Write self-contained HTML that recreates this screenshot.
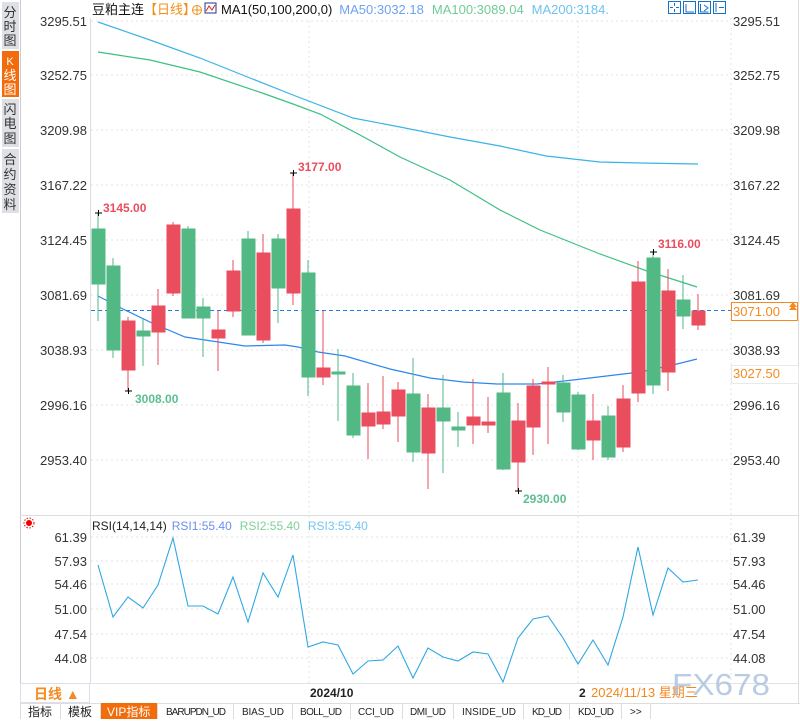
<!DOCTYPE html>
<html><head><meta charset="utf-8"><style>
body{margin:0;width:800px;height:719px;overflow:hidden;background:#fff;font-family:"Liberation Sans","Noto Sans CJK SC",sans-serif;}
svg text{font-family:"Liberation Sans","Noto Sans CJK SC",sans-serif;}
</style></head><body>
<svg width="800" height="719" viewBox="0 0 800 719" xmlns="http://www.w3.org/2000/svg">
<rect width="800" height="719" fill="#fff"/>
<rect x="2" y="2" width="17" height="47" fill="#dfe0e6"/>
<rect x="2" y="51" width="17" height="46" fill="#f36c0c"/>
<rect x="2" y="99" width="17" height="48" fill="#dfe0e6"/>
<rect x="2" y="149" width="17" height="64" fill="#dfe0e6"/>
<g font-size="13" fill="#333" text-anchor="middle">
<text x="10" y="17">分</text><text x="10" y="31">时</text><text x="10" y="45">图</text>
<text x="10" y="65" fill="#fff" font-size="11">K</text><text x="10" y="80" fill="#fff">线</text><text x="10" y="94" fill="#fff">图</text>
<text x="10" y="114">闪</text><text x="10" y="128">电</text><text x="10" y="143">图</text>
<text x="10" y="164">合</text><text x="10" y="179">约</text><text x="10" y="194">资</text><text x="10" y="209">料</text>
</g>
<line x1="20.5" y1="0" x2="20.5" y2="719" stroke="#ccc"/>
<line x1="90.5" y1="18" x2="90.5" y2="683" stroke="#ddd"/>
<line x1="798.5" y1="0" x2="798.5" y2="703" stroke="#ddd"/>
<g stroke="#e3e3e3" stroke-dasharray="2,3">
<line x1="91" y1="21" x2="731" y2="21"/><line x1="91" y1="75" x2="731" y2="75"/><line x1="91" y1="130" x2="731" y2="130"/>
<line x1="91" y1="185" x2="731" y2="185"/><line x1="91" y1="240" x2="731" y2="240"/><line x1="91" y1="295" x2="731" y2="295"/>
<line x1="91" y1="350" x2="731" y2="350"/><line x1="91" y1="405" x2="731" y2="405"/><line x1="91" y1="460" x2="731" y2="460"/>
<line x1="309" y1="21" x2="309" y2="683"/><line x1="578" y1="21" x2="578" y2="683"/>
<line x1="731" y1="18" x2="731" y2="683"/>
<line x1="91" y1="537" x2="731" y2="537"/><line x1="91" y1="561" x2="731" y2="561"/><line x1="91" y1="584" x2="731" y2="584"/>
<line x1="91" y1="609" x2="731" y2="609"/><line x1="91" y1="634" x2="731" y2="634"/><line x1="91" y1="658" x2="731" y2="658"/>
</g>
<line x1="20" y1="515.5" x2="798" y2="515.5" stroke="#ddd"/>
<text x="92" y="14" font-size="13"><tspan fill="#111">豆粕主连</tspan><tspan fill="#f39019">【日线】</tspan></text>
<circle cx="197" cy="10" r="4.5" fill="none" stroke="#f39019"/><path d="M192.5 10h9M197 5.5v9" stroke="#f39019"/>
<rect x="205" y="3" width="11" height="10" fill="#fff" stroke="#1a3a8a"/><polyline points="206,11 209,6 212,10 215,5" fill="none" stroke="#d22" />
<text x="221" y="14" font-size="13"><tspan fill="#111">MA1(50,100,200,0)</tspan><tspan fill="#6ea3f2" dx="7">MA50:3032.18</tspan><tspan fill="#6fcc98" dx="8">MA100:3089.04</tspan><tspan fill="#6cc3ef" dx="8">MA200:3184.</tspan></text>
<g fill="none" stroke="#1672c6" stroke-width="1">
<rect x="668.5" y="1.5" width="12" height="12"/><rect x="683.5" y="1.5" width="12" height="12"/><rect x="698.5" y="1.5" width="12" height="12"/><rect x="713.5" y="1.5" width="12" height="12"/>
<path d="M674.5 3v3M674.5 9v3M670 7.5h3M676 7.5h3M686 4v8h8M700.5 4v8h8M704 5l4 3-4 3M716 3v9M719 7.5h5"/>
</g>
<g font-size="13" fill="#333">
<g text-anchor="end">
<text x="87" y="26">3295.51</text><text x="87" y="80">3252.75</text><text x="87" y="135">3209.98</text><text x="87" y="190">3167.22</text>
<text x="87" y="245">3124.45</text><text x="87" y="300">3081.69</text><text x="87" y="355">3038.93</text><text x="87" y="410">2996.16</text><text x="87" y="465">2953.40</text>
<text x="87" y="542">61.39</text><text x="87" y="566">57.93</text><text x="87" y="589">54.46</text><text x="87" y="614">51.00</text><text x="87" y="639">47.54</text><text x="87" y="663">44.08</text>
</g>
<text x="733" y="26">3295.51</text><text x="733" y="80">3252.75</text><text x="733" y="135">3209.98</text><text x="733" y="190">3167.22</text>
<text x="733" y="245">3124.45</text><text x="733" y="300">3081.69</text><text x="733" y="355">3038.93</text><text x="733" y="410">2996.16</text><text x="733" y="465">2953.40</text>
<text x="733" y="542">61.39</text><text x="733" y="566">57.93</text><text x="733" y="589">54.46</text><text x="733" y="614">51.00</text><text x="733" y="639">47.54</text><text x="733" y="663">44.08</text>
</g>
<polyline fill="none" stroke="#3bb3e6" stroke-width="1.2" points="98,22 150,40 200,58 250,78 293,95 353,118 400,127 450,137 500,146 546,156 600,162 640,163 698,164"/>
<polyline fill="none" stroke="#3cc083" stroke-width="1.2" points="98,52 150,60 200,72 265,94 293,104 320,114 360,135 400,157 450,180 500,210 540,230 600,254 647,271 697,287"/>
<polyline fill="none" stroke="#2d86f0" stroke-width="1.2" points="98,296 123,309 152,323 185,337 225,343 245,346 285,345 298,347 318,352 345,356 390,369 430,378 463,382 497,384 537,384 573,380 640,372 673,365 697,359"/>
<line x1="91" y1="310.5" x2="731" y2="310.5" stroke="#1e7bef" stroke-dasharray="4,3"/>
<g stroke="#52b985" fill="#52b985">
<line x1="98" y1="213" x2="98" y2="321"/><rect x="92" y="229" width="13" height="55"/>
<line x1="113" y1="258" x2="113" y2="358"/><rect x="107" y="266" width="13" height="84"/>
<line x1="143" y1="319" x2="143" y2="366"/><rect x="137" y="331" width="13" height="5"/>
<line x1="188" y1="226" x2="188" y2="318"/><rect x="182" y="229" width="13" height="89"/>
<line x1="203" y1="298" x2="203" y2="357"/><rect x="197" y="307" width="13" height="11"/>
<line x1="248" y1="231" x2="248" y2="335"/><rect x="242" y="239" width="13" height="96"/>
<line x1="278" y1="234" x2="278" y2="323"/><rect x="272" y="239" width="13" height="49"/>
<line x1="308" y1="260" x2="308" y2="396"/><rect x="302" y="273" width="13" height="104"/>
<line x1="338" y1="349" x2="338" y2="421"/><rect x="332" y="372" width="13" height="2"/>
<line x1="353" y1="373" x2="353" y2="438"/><rect x="347" y="386" width="13" height="49"/>
<line x1="413" y1="358" x2="413" y2="462"/><rect x="407" y="394" width="13" height="58"/>
<line x1="443" y1="375" x2="443" y2="473"/><rect x="437" y="408" width="13" height="13"/>
<line x1="458" y1="412" x2="458" y2="447"/><rect x="452" y="427" width="13" height="3"/>
<line x1="503" y1="373" x2="503" y2="470"/><rect x="497" y="393" width="13" height="76"/>
<line x1="563" y1="375" x2="563" y2="422"/><rect x="557" y="383" width="13" height="29"/>
<line x1="578" y1="392" x2="578" y2="450"/><rect x="572" y="395" width="13" height="54"/>
<line x1="608" y1="406" x2="608" y2="460"/><rect x="602" y="416" width="13" height="41"/>
<line x1="653" y1="252" x2="653" y2="394"/><rect x="647" y="258" width="13" height="127"/>
<line x1="683" y1="275" x2="683" y2="329"/><rect x="677" y="300" width="13" height="16"/>
</g>
<g stroke="#ea4d5e" fill="#ea4d5e">
<line x1="128" y1="317" x2="128" y2="391"/><rect x="122" y="321" width="13" height="49"/>
<line x1="158" y1="289" x2="158" y2="365"/><rect x="152" y="306" width="13" height="26"/>
<line x1="173" y1="222" x2="173" y2="296"/><rect x="167" y="225" width="13" height="68"/>
<line x1="218" y1="311" x2="218" y2="371"/><rect x="212" y="330" width="13" height="8"/>
<line x1="233" y1="260" x2="233" y2="317"/><rect x="227" y="271" width="13" height="40"/>
<line x1="263" y1="234" x2="263" y2="343"/><rect x="257" y="253" width="13" height="87"/>
<line x1="293" y1="173" x2="293" y2="305"/><rect x="287" y="209" width="13" height="84"/>
<line x1="323" y1="311" x2="323" y2="385"/><rect x="317" y="368" width="13" height="9"/>
<line x1="368" y1="383" x2="368" y2="459"/><rect x="362" y="413" width="13" height="13"/>
<line x1="383" y1="376" x2="383" y2="429"/><rect x="377" y="412" width="13" height="12"/>
<line x1="398" y1="382" x2="398" y2="442"/><rect x="392" y="390" width="13" height="26"/>
<line x1="428" y1="394" x2="428" y2="489"/><rect x="422" y="408" width="13" height="45"/>
<line x1="473" y1="379" x2="473" y2="444"/><rect x="467" y="417" width="13" height="8"/>
<line x1="488" y1="397" x2="488" y2="433"/><rect x="482" y="422" width="13" height="3"/>
<line x1="518" y1="403" x2="518" y2="491"/><rect x="512" y="421" width="13" height="41"/>
<line x1="533" y1="379" x2="533" y2="455"/><rect x="527" y="386" width="13" height="41"/>
<line x1="548" y1="367" x2="548" y2="444"/><rect x="542" y="382" width="13" height="2"/>
<line x1="593" y1="394" x2="593" y2="460"/><rect x="587" y="421" width="13" height="19"/>
<line x1="623" y1="385" x2="623" y2="452"/><rect x="617" y="399" width="13" height="48"/>
<line x1="638" y1="261" x2="638" y2="402"/><rect x="632" y="282" width="13" height="111"/>
<line x1="668" y1="269" x2="668" y2="391"/><rect x="662" y="291" width="13" height="81"/>
<line x1="698" y1="294" x2="698" y2="330"/><rect x="692" y="311" width="13" height="14"/>
</g>
<g stroke="#000" stroke-width="1"><path d="M95 213h7M98.5 210v6M290 173h7M293.5 170v6M125 391h7M128.5 388v6M515 491h7M518.5 488v6M650 252h7M653.5 249v6"/></g>
<g font-size="12" font-weight="bold">
<text x="103" y="212" fill="#ea4d5e">3145.00</text><text x="298" y="171" fill="#ea4d5e">3177.00</text>
<text x="135" y="403" fill="#5cbf90">3008.00</text><text x="523" y="503" fill="#5cbf90">2930.00</text>
<text x="658" y="248" fill="#ea4d5e">3116.00</text>
</g>
<rect x="731.5" y="302.5" width="66" height="18" fill="#fff" stroke="#f58a1f"/>
<text x="733" y="316" font-size="13" fill="#f58a1f">3071.00</text>
<path d="M789 307l4-5 4 5zM789 310l4-5 4 5" fill="#f58a1f"/>
<rect x="731.5" y="365.5" width="67" height="18" fill="#fff" stroke="#e5ece8"/>
<text x="733" y="378" font-size="13" fill="#f58a1f">3027.50</text>
<circle cx="29" cy="523" r="3" fill="#e00"/><circle cx="29" cy="523" r="5" fill="none" stroke="#e00" stroke-dasharray="1.5,1.5"/>
<text x="92" y="530" font-size="12"><tspan fill="#222">RSI(14,14,14)</tspan><tspan fill="#6a8ff0" dx="5">RSI1:55.40</tspan><tspan fill="#7fcf9a" dx="8">RSI2:55.40</tspan><tspan fill="#72c6ef" dx="8">RSI3:55.40</tspan></text>
<polyline fill="none" stroke="#2fa8e2" stroke-width="1.1" points="98,565 113,617 128,597 143,608 158,585 173,538 188,606 203,606 218,614 233,577 248,622 263,573 278,597 293,555 308,647 323,642 338,645 353,674 368,661 383,660 398,646 413,678 428,648 443,657 458,661 473,652 488,654 503,682 518,638 533,619 548,616 563,638 578,664 593,640 608,665 623,617 638,547 653,615 668,568 683,582 698,580"/>
<line x1="20" y1="683.5" x2="798" y2="683.5" stroke="#e3e3e3"/>
<rect x="20.5" y="683.5" width="69" height="19" fill="#fff" stroke="#dde"/>
<text x="34" y="699" font-size="14" font-weight="bold" fill="#f58a1f">日线 ▲</text>
<text x="310" y="697" font-size="12" font-weight="bold" fill="#222">2024/10</text>
<text x="579" y="697" font-size="12" font-weight="bold" fill="#222">2</text>
<rect x="588" y="684" width="110" height="16" fill="#fff"/>
<text x="591" y="697" font-size="13" fill="#f5871f">2024/11/13 星期三</text>
<text x="672" y="695" font-size="31" fill="#a9bfdc" fill-opacity="0.8" font-family="Liberation Sans" textLength="98" lengthAdjust="spacingAndGlyphs">FX678</text>
<rect x="20" y="703" width="780" height="16" fill="#fff"/>
<line x1="20" y1="703.5" x2="800" y2="703.5" stroke="#ddd"/>
<rect x="100" y="703" width="57" height="16" fill="#f36c0c"/>
<g stroke="#ddd"><path d="M20.5 703v16M60.5 703v16M100.5 703v16M157.5 703v16M233.5 703v16M292.5 703v16M350.5 703v16M402.5 703v16M453.5 703v16M523.5 703v16M569.5 703v16M621.5 703v16M650.5 703v16"/></g>
<g font-size="12" fill="#222">
<text x="28" y="716">指标</text><text x="68" y="716">模板</text><text x="107" y="716" fill="#fff">VIP指标</text>
<g font-family="Liberation Mono" font-size="10" lengthAdjust="spacingAndGlyphs">
<text x="166" y="715" textLength="60">BARUPDN_UD</text><text x="242" y="715" textLength="42">BIAS_UD</text><text x="300" y="715" textLength="42">BOLL_UD</text><text x="358" y="715" textLength="36">CCI_UD</text>
<text x="410" y="715" textLength="36">DMI_UD</text><text x="462" y="715" textLength="54">INSIDE_UD</text><text x="532" y="715" textLength="30">KD_UD</text><text x="578" y="715" textLength="36">KDJ_UD</text><text x="630" y="715">&gt;&gt;</text>
</g></g>
</svg>
</body></html>
